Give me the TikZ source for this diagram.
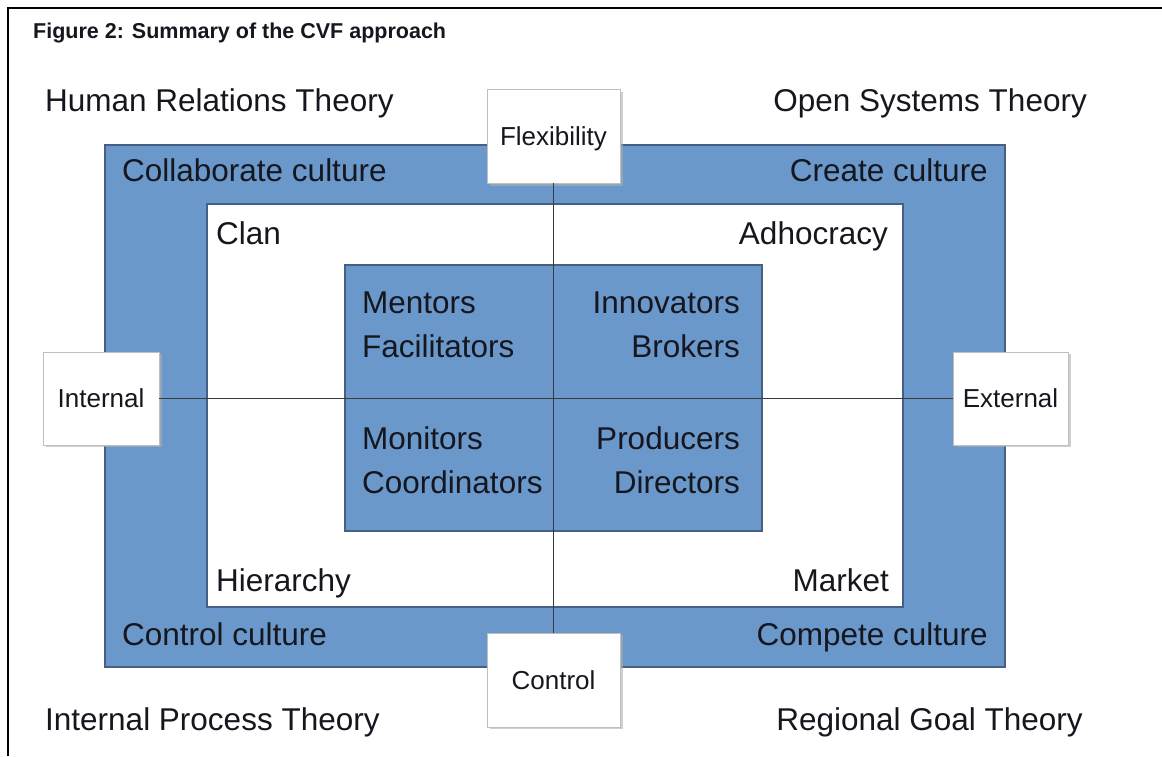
\documentclass[tikz,border=0pt]{standalone}
\usepackage{fontspec}
\setmainfont{Liberation Sans}
\begin{document}
\definecolor{cvfblue}{RGB}{106,152,202}
\definecolor{cvfedge}{RGB}{70,95,130}
\definecolor{ink}{RGB}{22,22,30}
\definecolor{shade}{RGB}{175,175,175}
\tikzset{
  bluebox/.style={draw=cvfedge, line width=1.2pt, fill=cvfblue, inner sep=0pt},
  whitebox/.style={draw=cvfedge, line width=1.2pt, fill=white, inner sep=0pt},
  axisbox/.style={draw=shade!80, line width=0.8pt, fill=white, inner sep=0pt,
    font=\fontsize{26}{30}\selectfont, text=ink},
  axisshadow/.style={fill=shade, opacity=0.6, inner sep=0pt},
  lbl/.style={inner sep=0pt, font=\fontsize{31.5}{36}\selectfont, text=ink},
  axisline/.style={draw=ink!85, line width=1.8pt},
  frameline/.style={draw=black, line width=2.5pt}
}
\begin{tikzpicture}[x=1pt,y=-1pt]
\useasboundingbox (0,0) rectangle (1162,756);
% frame edges
\coordinate (ftl) at (8,8);
\coordinate (ftr) at (1162,8);
\coordinate (fbl) at (8,756);
\draw[frameline] (fbl) -- (ftl) -- (ftr);

% title
\node[lbl, anchor=base west, font=\bfseries\fontsize{21.5}{25}\selectfont] (title) at (33,38) {Figure 2: Summary of the CVF approach};

% nested culture rectangles
\node[bluebox, minimum width=900pt, minimum height=522pt] (outer) at (555,406) {};
\node[whitebox, minimum width=696pt, minimum height=403pt] (mid) at (555,405.5) {};
\node[bluebox, minimum width=417pt, minimum height=266pt] (core) at (553.5,398) {};

% axis boxes with their shadows
\node[axisshadow, minimum width=133pt, minimum height=94pt] (flexsh) at (556,139) {};
\node[axisshadow, minimum width=133pt, minimum height=94pt] (ctrlsh) at (556,682) {};
\node[axisshadow, minimum width=116pt, minimum height=93pt] (intsh) at (103.5,400.5) {};
\node[axisshadow, minimum width=115pt, minimum height=93pt] (extsh) at (1013,400.5) {};
\node[axisbox, minimum width=133pt, minimum height=94pt] (flex) at (553.5,136) {};
\node[axisbox, minimum width=133pt, minimum height=94pt] (ctrl) at (553.5,680) {};
\node[axisbox, minimum width=116pt, minimum height=93pt] (int) at (101,398.5) {};
\node[axisbox, minimum width=115pt, minimum height=93pt] (ext) at (1010.5,398.5) {};

% the two axes
\draw[axisline] (flex.south) -- (ctrl.north);
\draw[axisline] (int.east) -- (ext.west);

% axis labels
\node[axisbox, draw=none, fill=none, anchor=base] (flext) at (553.5,145) {Flexibility};
\node[axisbox, draw=none, fill=none, anchor=base] (ctrlt) at (553.5,689) {Control};
\node[axisbox, draw=none, fill=none, anchor=base] (intt) at (101,407) {Internal};
\node[axisbox, draw=none, fill=none, anchor=base] (extt) at (1010.5,407) {External};

% theories
\node[lbl, anchor=base west] (hrt) at (45,111) {Human Relations Theory};
\node[lbl, anchor=base east] (ost) at (1087,111) {Open Systems Theory};
\node[lbl, anchor=base west] (ipt) at (45,730) {Internal Process Theory};
\node[lbl, anchor=base east] (rgt) at (1083,730) {Regional Goal Theory};

% cultures
\node[lbl, anchor=base west] (collab) at (122,181) {Collaborate culture};
\node[lbl, anchor=base east] (create) at (988,181) {Create culture};
\node[lbl, anchor=base west] (control) at (122,645) {Control culture};
\node[lbl, anchor=base east] (compete) at (988,645) {Compete culture};

% organisation types
\node[lbl, anchor=base west] (clan) at (216,244) {Clan};
\node[lbl, anchor=base east] (adhoc) at (888,244) {Adhocracy};
\node[lbl, anchor=base west] (hier) at (216,591) {Hierarchy};
\node[lbl, anchor=base east] (market) at (889,591) {Market};

% leader roles
\node[lbl, anchor=base west] (mentors) at (362,313) {Mentors};
\node[lbl, anchor=base west] (facil) at (362,357) {Facilitators};
\node[lbl, anchor=base east] (innov) at (740,313) {Innovators};
\node[lbl, anchor=base east] (brokers) at (740,357) {Brokers};
\node[lbl, anchor=base west] (monitors) at (362,449) {Monitors};
\node[lbl, anchor=base west] (coord) at (362,493) {Coordinators};
\node[lbl, anchor=base east] (produc) at (740,449) {Producers};
\node[lbl, anchor=base east] (direct) at (740,493) {Directors};
\end{tikzpicture}
\end{document}
